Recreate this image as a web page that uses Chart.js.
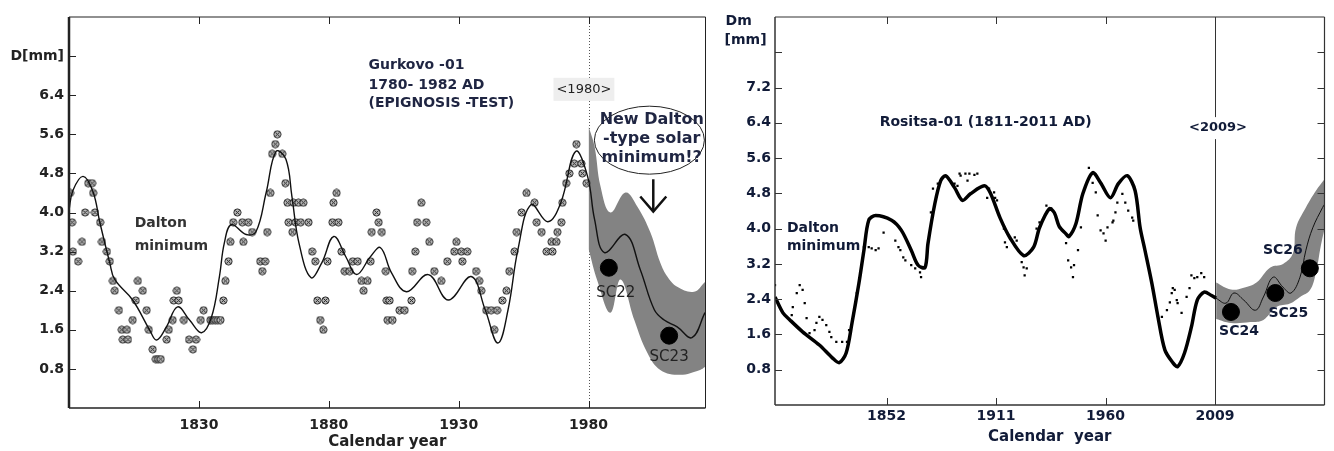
<!DOCTYPE html>
<html>
<head>
<meta charset="utf-8">
<script src="https://cdn.jsdelivr.net/npm/chart.js@4.4.1/dist/chart.umd.min.js"></script>
<style>
  html, body { margin: 0; padding: 0; background: #fff; }
  #wrap { position: relative; width: 1334px; height: 451px; overflow: hidden; }
  .box { position: absolute; top: 0; height: 451px; }
</style>
</head>
<body>
<div id="wrap">
  <div class="box" style="left:0;width:715px"><canvas id="leftChart"></canvas></div>
  <div class="box" style="left:715px;width:619px"><canvas id="rightChart"></canvas></div>
</div>
<script>
// ---------- Gurkovo-01 (left panel) ----------
const gurkovoFitYears = [1780, 1781.5, 1785.4, 1789.2, 1791.9, 1795.7, 1797.6, 1804.5, 1811.0, 1813.7, 1817.5, 1821.8, 1826.4, 1831.0, 1834.8, 1837.9, 1839.8, 1842.5, 1848.2, 1852.0, 1855.9, 1859.7, 1863.5, 1865.8, 1868.5, 1873.1, 1877.3, 1881.9, 1886.5, 1890.7, 1896.1, 1899.9, 1904.1, 1909.9, 1918.3, 1926.0, 1934.8, 1940.2, 1945.1, 1949.0, 1952.8, 1957.8, 1964.3, 1969.3, 1975.0, 1979.6, 1982.3, 1986.1, 1994.2, 1999.9, 2005.3, 2009.1, 2014.1, 2019.8, 2024.8];
const gurkovoFitValues = [4.05, 4.45, 4.74, 4.43, 3.79, 2.97, 2.63, 2.21, 1.60, 1.39, 1.66, 2.07, 1.80, 1.54, 1.85, 2.69, 3.38, 3.75, 3.55, 3.61, 4.41, 5.25, 5.09, 4.33, 3.38, 2.67, 2.97, 3.51, 3.10, 2.73, 3.10, 3.28, 2.77, 2.38, 2.73, 2.21, 2.69, 2.01, 1.33, 2.01, 3.24, 4.16, 3.81, 4.20, 5.25, 4.74, 3.86, 3.18, 3.55, 2.83, 2.01, 1.80, 1.66, 1.44, 1.95];

const gurkovoObsYears = [1780.4, 1781.2, 1781.5, 1783.5, 1785.0, 1786.2, 1787.4, 1788.9, 1789.3, 1790.0, 1792.0, 1792.7, 1794.6, 1795.7, 1796.9, 1797.6, 1799.2, 1800.3, 1800.7, 1802.3, 1802.7, 1804.5, 1805.7, 1806.5, 1808.4, 1809.9, 1810.7, 1812.2, 1813.4, 1814.3, 1815.3, 1817.6, 1818.4, 1819.9, 1820.3, 1821.5, 1822.2, 1824.2, 1826.2, 1827.7, 1828.9, 1830.7, 1831.8, 1834.4, 1835.3, 1836.3, 1837.3, 1838.3, 1839.4, 1840.2, 1841.4, 1842.1, 1843.2, 1844.8, 1846.7, 1847.1, 1849.0, 1850.5, 1853.6, 1854.4, 1855.5, 1856.3, 1857.5, 1858.2, 1859.4, 1860.2, 1862.1, 1863.3, 1864.1, 1864.5, 1866.0, 1866.4, 1867.2, 1868.3, 1869.2, 1870.2, 1872.2, 1873.6, 1874.8, 1875.6, 1876.7, 1877.9, 1878.7, 1879.5, 1881.4, 1881.8, 1883.0, 1883.7, 1884.9, 1886.1, 1888.0, 1889.2, 1891.1, 1892.6, 1893.4, 1894.9, 1896.1, 1896.5, 1898.4, 1899.2, 1900.4, 1901.9, 1902.3, 1902.6, 1903.4, 1904.5, 1907.2, 1909.2, 1911.8, 1912.1, 1913.3, 1914.0, 1915.6, 1917.5, 1918.7, 1920.6, 1923.3, 1925.6, 1928.3, 1929.1, 1931.0, 1931.4, 1933.3, 1936.7, 1937.9, 1938.7, 1940.6, 1942.5, 1943.7, 1944.8, 1946.8, 1948.4, 1949.5, 1951.5, 1952.3, 1954.2, 1956.1, 1959.2, 1960.0, 1961.9, 1963.8, 1965.7, 1966.1, 1967.6, 1968.0, 1969.5, 1969.9, 1971.4, 1972.6, 1974.5, 1975.3, 1977.2, 1977.6, 1979.2];
const gurkovoObsValues = [4.4, 3.8, 3.2, 3.0, 3.4, 4.0, 4.6, 4.6, 4.4, 4.0, 3.8, 3.4, 3.2, 3.0, 2.6, 2.4, 2.0, 1.6, 1.4, 1.6, 1.4, 1.8, 2.2, 2.6, 2.4, 2.0, 1.6, 1.2, 1.0, 1.0, 1.0, 1.4, 1.6, 1.8, 2.2, 2.4, 2.2, 1.8, 1.4, 1.2, 1.4, 1.8, 2.0, 1.8, 1.8, 1.8, 1.8, 1.8, 2.2, 2.6, 3.0, 3.4, 3.8, 4.0, 3.8, 3.4, 3.8, 3.6, 3.0, 2.8, 3.0, 3.6, 4.4, 5.2, 5.4, 5.6, 5.2, 4.6, 4.2, 3.8, 3.6, 4.2, 3.8, 4.2, 3.8, 4.2, 3.8, 3.2, 3.0, 2.2, 1.8, 1.6, 2.2, 3.0, 3.8, 4.2, 4.4, 3.8, 3.2, 2.8, 2.8, 3.0, 3.0, 2.6, 2.4, 2.6, 3.0, 3.6, 4.0, 3.8, 3.6, 2.8, 2.2, 1.8, 2.2, 1.8, 2.0, 2.0, 2.2, 2.8, 3.2, 3.8, 4.2, 3.8, 3.4, 2.8, 2.6, 3.0, 3.2, 3.4, 3.2, 3.0, 3.2, 2.8, 2.6, 2.4, 2.0, 2.0, 1.6, 2.0, 2.2, 2.4, 2.8, 3.2, 3.6, 4.0, 4.4, 4.2, 3.8, 3.6, 3.2, 3.4, 3.2, 3.4, 3.6, 3.8, 4.2, 4.6, 4.8, 5.0, 5.4, 5.0, 4.8, 4.6];

const gurkovoBandTopYears = [1980.0, 1982.3, 1984.6, 1988.4, 1994.2, 1998.8, 2003.8, 2007.6, 2010.3, 2014.1, 2020.6, 2024.8];
const gurkovoBandTopValues = [5.76, 5.35, 4.53, 4.00, 4.41, 4.12, 3.59, 2.97, 2.69, 2.48, 2.38, 2.58];
const gurkovoBandLowYears = [1980.0, 1983.4, 1988.4, 1992.3, 1997.6, 2002.6, 2007.6, 2015.2, 2022.9, 2024.8];
const gurkovoBandLowValues = [3.25, 2.6, 1.95, 2.63, 1.80, 1.13, 0.78, 0.68, 0.78, 0.84];

const gurkovoCycleNames = ['SC22', 'SC23'];
const gurkovoCycleYears = [1987.8, 2011.0];
const gurkovoCycleValues = [2.87, 1.48];

const gurkovoXTicks = [1830, 1880, 1930, 1980];
const gurkovoYTicks = [0.8, 1.6, 2.4, 3.2, 4.0, 4.8, 5.6, 6.4, 7.2];
const gurkovoYTickLabels = ['0.8', '1.6', '2.4', '3.2', '4.0', '4.8', '5.6', '6.4', 'D[mm]'];

// ---------- Rositsa-01 (right panel) ----------
const rositsaYears = [1798.7, 1802.5, 1805.8, 1811.9, 1819.9, 1826.1, 1829.4, 1832.7, 1835.5, 1838.8, 1841.2, 1843.5, 1846.8, 1854.4, 1859.1, 1863.8, 1867.1, 1870.4, 1871.8, 1875.1, 1877.9, 1880.3, 1884.5, 1888.3, 1892.1, 1898.7, 1901.5, 1906.2, 1910.9, 1917.5, 1922.3, 1925.1, 1929.8, 1932.2, 1934.5, 1937.8, 1939.2, 1942.5, 1945.8, 1950.5, 1954.3, 1959.0, 1962.8, 1967.0, 1970.8, 1973.2, 1975.5, 1978.8, 1981.7, 1985.0, 1988.8, 1991.1, 1994.4, 1997.7, 2000.5, 2003.8, 2007.1, 2009.5];
const rositsaValues = [2.45, 2.09, 1.93, 1.66, 1.36, 1.07, 0.96, 1.18, 1.86, 2.76, 3.51, 4.19, 4.30, 4.19, 3.96, 3.51, 3.17, 3.12, 3.66, 4.57, 5.09, 5.20, 4.93, 4.64, 4.79, 4.97, 4.82, 4.25, 3.80, 3.39, 3.58, 4.02, 4.45, 4.36, 4.05, 3.88, 3.82, 4.11, 4.79, 5.27, 5.04, 4.70, 5.02, 5.20, 4.86, 4.02, 3.51, 2.76, 2.00, 1.25, 0.96, 0.87, 1.18, 1.77, 2.38, 2.56, 2.49, 2.42];

const rositsaObsYears = [1798.7, 1806.7, 1807.2, 1809.1, 1810.5, 1811.9, 1812.9, 1813.8, 1815.2, 1817.6, 1818.5, 1819.9, 1821.4, 1823.2, 1824.7, 1825.6, 1828.0, 1830.8, 1833.1, 1834.1, 1836.4, 1837.8, 1841.2, 1843.5, 1844.9, 1846.8, 1848.2, 1850.6, 1856.2, 1857.7, 1858.6, 1860.0, 1861.0, 1863.8, 1865.7, 1868.0, 1868.5, 1873.2, 1874.2, 1876.5, 1884.5, 1885.9, 1886.9, 1887.4, 1889.7, 1890.7, 1891.6, 1894.0, 1895.4, 1900.1, 1901.0, 1903.4, 1903.9, 1904.8, 1908.1, 1908.6, 1909.5, 1913.3, 1914.2, 1916.6, 1917.5, 1918.0, 1919.0, 1923.7, 1925.1, 1928.4, 1930.7, 1937.8, 1938.8, 1940.2, 1941.1, 1941.6, 1943.5, 1944.9, 1948.7, 1950.5, 1952.0, 1952.9, 1954.3, 1955.7, 1956.7, 1957.6, 1960.0, 1960.4, 1961.4, 1962.3, 1964.7, 1966.1, 1967.5, 1969.4, 1969.9, 1983.6, 1986.0, 1987.4, 1988.3, 1988.8, 1989.7, 1990.7, 1991.1, 1993.0, 1995.4, 1996.8, 1997.7, 1999.1, 2000.5, 2002.4, 2003.8];
const rositsaObsValues = [2.72, 2.04, 2.22, 2.54, 2.72, 2.61, 2.31, 1.97, 1.63, 1.70, 1.86, 2.00, 1.93, 1.81, 1.66, 1.54, 1.43, 1.43, 1.43, 1.70, 2.04, 2.54, 3.58, 3.58, 3.55, 3.51, 3.55, 3.91, 3.73, 3.58, 3.51, 3.35, 3.28, 3.17, 3.10, 3.01, 2.90, 4.37, 4.91, 5.02, 5.02, 4.97, 5.25, 5.20, 5.25, 5.09, 5.25, 5.22, 5.25, 4.70, 4.91, 4.82, 4.70, 4.64, 4.00, 3.69, 3.58, 3.80, 3.73, 3.24, 3.12, 2.94, 3.10, 4.00, 4.14, 4.52, 4.46, 3.67, 3.28, 3.12, 2.90, 3.17, 3.51, 4.03, 5.38, 5.04, 4.82, 4.30, 3.96, 3.89, 3.73, 4.03, 4.14, 4.18, 4.37, 4.59, 4.79, 4.59, 4.41, 4.25, 4.18, 2.00, 2.15, 2.33, 2.54, 2.65, 2.61, 2.38, 2.31, 2.09, 2.45, 2.65, 2.94, 2.88, 2.90, 2.99, 2.90];

const rositsaForecastYears = [2009.5, 2014.2, 2018.0, 2022.7, 2028.3, 2032.1, 2036.8, 2041.5, 2045.3, 2049.6, 2052.4, 2055.7, 2060.4, 2061.3];
const rositsaForecastValues = [2.42, 2.31, 2.54, 2.38, 2.15, 2.45, 2.90, 2.67, 2.54, 2.90, 3.51, 4.02, 4.48, 4.55];
const rositsaBandTopYears = [2009.5, 2016.6, 2022.7, 2028.8, 2035.4, 2041.5, 2046.2, 2047.7, 2052.4, 2057.2, 2061.3];
const rositsaBandTopValues = [2.78, 2.62, 2.66, 2.78, 3.12, 3.20, 3.44, 4.02, 4.48, 4.86, 5.12];
const rositsaBandLowYears = [2009.5, 2016.6, 2025.9, 2032.1, 2038.2, 2044.8, 2049.6, 2054.3, 2057.2, 2059.5, 2061.3];
const rositsaBandLowValues = [1.95, 1.86, 1.88, 1.93, 2.22, 2.30, 2.45, 2.60, 3.00, 3.60, 4.00];

const rositsaCycleNames = ['SC24', 'SC25', 'SC26'];
const rositsaCycleYears = [2016.6, 2037.8, 2054.3];
const rositsaCycleValues = [2.11, 2.54, 3.10];

const rositsaXTickPos = [1852, 1904.33, 1956.67, 2009];
const rositsaXTickLabels = ['1852', '1911', '1960', '2009'];
const rositsaYTicks = [0.8, 1.6, 2.4, 3.2, 4.0, 4.8, 5.6, 6.4, 7.2, 8.0];
const rositsaYTickLabels = ['0.8', '1.6', '2.4', '3.2', '4.0', '4.8', '5.6', '6.4', '7.2', ''];

// ---------- helpers ----------
Chart.defaults.font.family = '"DejaVu Sans", Verdana, sans-serif';
const pts = (xs, ys) => xs.map((x, i) => ({ x: x, y: ys[i] }));

// circle with a cross inside, the marker used for the Gurkovo measurements
function crossCircle() {
  const c = document.createElement('canvas');
  c.width = 9; c.height = 9;
  const g = c.getContext('2d');
  g.fillStyle = '#b9b9b9';
  g.strokeStyle = '#262626';
  g.lineWidth = 1;
  g.beginPath(); g.arc(4.5, 4.5, 3.6, 0, Math.PI * 2); g.fill(); g.stroke();
  g.beginPath();
  g.moveTo(2.4, 2.4); g.lineTo(6.6, 6.6);
  g.moveTo(6.6, 2.4); g.lineTo(2.4, 6.6);
  g.stroke();
  return c;
}

function seg(ctx, x1, y1, x2, y2) {
  ctx.beginPath(); ctx.moveTo(x1, y1); ctx.lineTo(x2, y2); ctx.stroke();
}

// frame, inward ticks, reference lines and annotations
const decor = {
  id: 'decor',
  beforeDatasetsDraw(chart, args, o) {
    const { ctx, chartArea: a, scales: { x } } = chart;
    ctx.save();
    (o.vlines || []).forEach(v => {
      const px = Math.round(x.getPixelForValue(v.x)) + 0.5;
      ctx.strokeStyle = v.color; ctx.lineWidth = 1;
      ctx.setLineDash(v.dash || []);
      seg(ctx, px, a.top, px, a.bottom);
    });
    ctx.restore();
  },
  afterDraw(chart, args, o) {
    const { ctx, chartArea: a, scales: { x, y } } = chart;
    ctx.save();
    const f = o.frame;
    ctx.strokeStyle = f.color;
    ctx.lineWidth = 1;
    x.ticks.forEach(t => {
      const px = Math.round(x.getPixelForValue(t.value)) + 0.5;
      seg(ctx, px, a.bottom, px, a.bottom - f.tick);
      seg(ctx, px, a.top, px, a.top + f.tick);
    });
    y.ticks.forEach(t => {
      const py = Math.round(y.getPixelForValue(t.value)) + 0.5;
      seg(ctx, a.left, py, a.left + f.tick, py);
      if (f.rightTicks) seg(ctx, a.right, py, a.right - f.tick, py);
    });
    [['left', a.left, a.top, a.left, a.bottom], ['bottom', a.left, a.bottom, a.right, a.bottom],
     ['top', a.left, a.top, a.right, a.top], ['right', a.right, a.top, a.right, a.bottom]].forEach(s => {
      ctx.lineWidth = f[s[0]];
      seg(ctx, s[1], s[2], s[3], s[4]);
    });

    (o.ellipses || []).forEach(e => {
      ctx.strokeStyle = e.color; ctx.lineWidth = 1;
      ctx.beginPath();
      ctx.ellipse(x.getPixelForValue(e.x), y.getPixelForValue(e.y), e.rx, e.ry, 0, 0, Math.PI * 2);
      ctx.stroke();
    });
    (o.arrows || []).forEach(r => {
      const px = x.getPixelForValue(r.x), p1 = y.getPixelForValue(r.from), p2 = y.getPixelForValue(r.to);
      ctx.strokeStyle = r.color; ctx.lineWidth = 2.5;
      seg(ctx, px, p1, px, p2);
      ctx.beginPath();
      ctx.moveTo(px - 13, p2 - 15); ctx.lineTo(px, p2); ctx.lineTo(px + 13, p2 - 15);
      ctx.stroke();
    });
    (o.texts || []).forEach(t => {
      const px = x.getPixelForValue(t.x) + (t.dx || 0);
      const py = y.getPixelForValue(t.y) + (t.dy || 0);
      ctx.font = t.font;
      ctx.textAlign = t.align || 'center';
      ctx.textBaseline = 'middle';
      if (t.bg) {
        const w = ctx.measureText(t.text).width;
        const x0 = t.align === 'left' ? px : px - w / 2;
        ctx.fillStyle = t.bg;
        ctx.fillRect(x0 - t.pad, py - 10 - t.pad / 2, w + 2 * t.pad, 20 + t.pad);
      }
      ctx.fillStyle = t.color;
      ctx.fillText(t.text, px, py);
    });
    ctx.restore();
  }
};

function axisX(min, max, tickVals, tickLabels, height, pad, titleText, titleBottom, color) {
  return {
    type: 'linear', min: min, max: max,
    grid: { display: false, drawTicks: false },
    border: { display: false },
    afterBuildTicks: s => { s.ticks = tickVals.map(v => ({ value: v })); },
    afterFit: s => { s.height = height; },
    ticks: {
      autoSkip: false, maxRotation: 0, padding: pad, color: color,
      font: { size: 14, weight: 'bold' },
      callback: (v, i) => tickLabels[i]
    },
    title: {
      display: true, text: titleText, color: color,
      font: { size: 15, weight: 'bold' },
      padding: { top: 0, bottom: titleBottom }
    }
  };
}

function axisY(max, tickVals, tickLabels, width, pad, color) {
  return {
    type: 'linear', min: 0, max: max,
    grid: { display: false, drawTicks: false },
    border: { display: false },
    afterBuildTicks: s => { s.ticks = tickVals.map(v => ({ value: v })); },
    afterFit: s => { s.width = width; },
    ticks: {
      autoSkip: false, padding: pad, color: color,
      font: { size: 14, weight: 'bold' },
      callback: (v, i) => tickLabels[i]
    }
  };
}

const commonOpts = {
  responsive: true,
  maintainAspectRatio: false,
  animation: false,
  events: [],
  plugins: { legend: { display: false }, tooltip: { enabled: false } }
};

// ---------- left chart ----------
const ink = '#222222';
const navyL = '#1f2542';
const cycleLabelsLeft = gurkovoCycleNames.map((n, i) => ({
  text: n, x: gurkovoCycleYears[i], y: gurkovoCycleValues[i],
  dx: [7, 0][i], dy: [25, 21][i], font: '15px "DejaVu Sans"', color: ink
}));

new Chart(document.getElementById('leftChart'), {
  type: 'line',
  data: {
    datasets: [
      { data: pts(gurkovoBandTopYears, gurkovoBandTopValues), fill: '+1', backgroundColor: '#838383',
        borderColor: 'transparent', borderWidth: 0, pointRadius: 0, tension: 0.4, order: 10 },
      { data: pts(gurkovoBandLowYears, gurkovoBandLowValues), fill: false,
        borderColor: 'transparent', borderWidth: 0, pointRadius: 0, tension: 0.4, order: 10 },
      { data: pts(gurkovoFitYears, gurkovoFitValues), borderColor: '#111', borderWidth: 1.4,
        pointRadius: 0, tension: 0.4, fill: false, order: 3 },
      { data: pts(gurkovoObsYears, gurkovoObsValues), showLine: false, pointStyle: crossCircle(),
        pointRadius: 4, order: 4 },
      { data: pts(gurkovoCycleYears, gurkovoCycleValues), showLine: false, pointStyle: 'circle',
        pointRadius: 8.5, backgroundColor: '#000', borderColor: '#000', order: 1 }
    ]
  },
  options: Object.assign({}, commonOpts, {
    layout: { padding: { left: 0, right: 7, top: 17, bottom: 0 } },
    scales: {
      x: axisX(1780, 2025, gurkovoXTicks, gurkovoXTicks.map(String), 43, 9, 'Calendar year', 0, ink),
      y: axisY(8, gurkovoYTicks, gurkovoYTickLabels, 69, 5, ink)
    },
    plugins: Object.assign({}, commonOpts.plugins, {
      decor: {
        frame: { color: '#222', tick: 7, left: 2.5, bottom: 1.5, top: 1.2, right: 1, rightTicks: false },
        vlines: [{ x: 1980, color: '#555', dash: [1, 2] }],
        ellipses: [{ x: 2003.4, y: 5.48, rx: 55, ry: 34, color: '#222' }],
        arrows: [{ x: 2004.9, from: 4.68, to: 4.02, color: '#111' }],
        texts: [
          { text: 'Gurkovo -01', x: 1895.3, y: 7.01, align: 'left', font: 'bold 14px "DejaVu Sans"', color: navyL },
          { text: '1780- 1982 AD', x: 1895.3, y: 6.60, align: 'left', font: 'bold 14px "DejaVu Sans"', color: navyL },
          { text: '(EPIGNOSIS -TEST)', x: 1895.3, y: 6.24, align: 'left', font: 'bold 14px "DejaVu Sans"', color: navyL },
          { text: '<1980>', x: 1978.2, y: 6.52, font: '13px "DejaVu Sans"', color: ink, bg: '#eeeeee', pad: 3 },
          { text: 'New Dalton', x: 2004.3, y: 5.89, font: 'bold 16px "DejaVu Sans"', color: navyL },
          { text: '-type solar', x: 2004.3, y: 5.50, font: 'bold 16px "DejaVu Sans"', color: navyL },
          { text: 'minimum!?', x: 2004.3, y: 5.11, font: 'bold 16px "DejaVu Sans"', color: navyL },
          { text: 'Dalton', x: 1805.3, y: 3.77, align: 'left', font: 'bold 14px "DejaVu Sans"', color: '#333' },
          { text: 'minimum', x: 1805.3, y: 3.30, align: 'left', font: 'bold 14px "DejaVu Sans"', color: '#333' }
        ].concat(cycleLabelsLeft)
      }
    })
  }),
  plugins: [decor]
});

// ---------- right chart ----------
const navy = '#111b38';
const cycleLabelsRight = rositsaCycleNames.map((n, i) => ({
  text: n, x: rositsaCycleYears[i], y: rositsaCycleValues[i],
  dx: [8, 13, -27][i], dy: [19, 20, -18][i], font: 'bold 14px "DejaVu Sans"', color: navy
}));

new Chart(document.getElementById('rightChart'), {
  type: 'line',
  data: {
    datasets: [
      { data: pts(rositsaBandTopYears, rositsaBandTopValues), fill: '+1', backgroundColor: '#858585',
        borderColor: 'transparent', borderWidth: 0, pointRadius: 0, tension: 0.4, order: 10 },
      { data: pts(rositsaBandLowYears, rositsaBandLowValues), fill: false,
        borderColor: 'transparent', borderWidth: 0, pointRadius: 0, tension: 0.4, order: 10 },
      { data: pts(rositsaYears, rositsaValues), borderColor: '#000', borderWidth: 3.5,
        pointRadius: 0, tension: 0.3, fill: false, order: 3 },
      { data: pts(rositsaForecastYears, rositsaForecastValues), borderColor: '#111', borderWidth: 1,
        pointRadius: 0, tension: 0.4, fill: false, order: 3 },
      { data: pts(rositsaObsYears, rositsaObsValues), showLine: false, pointStyle: 'rect',
        pointRadius: 1.6, backgroundColor: '#000', borderColor: '#000', borderWidth: 0, order: 4 },
      { data: pts(rositsaCycleYears, rositsaCycleValues), showLine: false, pointStyle: 'circle',
        pointRadius: 8.5, backgroundColor: '#000', borderColor: '#000', order: 1 }
    ]
  },
  options: Object.assign({}, commonOpts, {
    layout: { padding: { left: 0, right: 2, top: 17, bottom: 0 } },
    scales: {
      x: axisX(1798.7, 2061.3, rositsaXTickPos, rositsaXTickLabels, 46, 3, 'Calendar  year', 5, navy),
      y: axisY(8.8, rositsaYTicks, rositsaYTickLabels, 60, 4, navy)
    },
    plugins: Object.assign({}, commonOpts.plugins, {
      decor: {
        frame: { color: '#333', tick: 7, left: 1.5, bottom: 1.5, top: 1.2, right: 1.2, rightTicks: true },
        vlines: [{ x: 2009, color: '#333' }],
        texts: [
          { text: 'Dm', x: 1775.1, y: 8.70, align: 'left', font: 'bold 14px "DejaVu Sans"', color: navy },
          { text: '[mm]', x: 1774.6, y: 8.27, align: 'left', font: 'bold 14px "DejaVu Sans"', color: navy },
          { text: 'Rositsa-01 (1811-2011 AD)', x: 1848.7, y: 6.42, align: 'left', font: 'bold 14px "DejaVu Sans"', color: navy },
          { text: '<2009>', x: 2010.4, y: 6.28, font: 'bold 13px "DejaVu Sans"', color: navy, bg: '#ffffff', pad: 2 },
          { text: 'Dalton', x: 1804.4, y: 4.0, align: 'left', font: 'bold 14px "DejaVu Sans"', color: navy },
          { text: 'minimum', x: 1804.4, y: 3.6, align: 'left', font: 'bold 14px "DejaVu Sans"', color: navy }
        ].concat(cycleLabelsRight)
      }
    })
  }),
  plugins: [decor]
});
</script>
</body>
</html>
